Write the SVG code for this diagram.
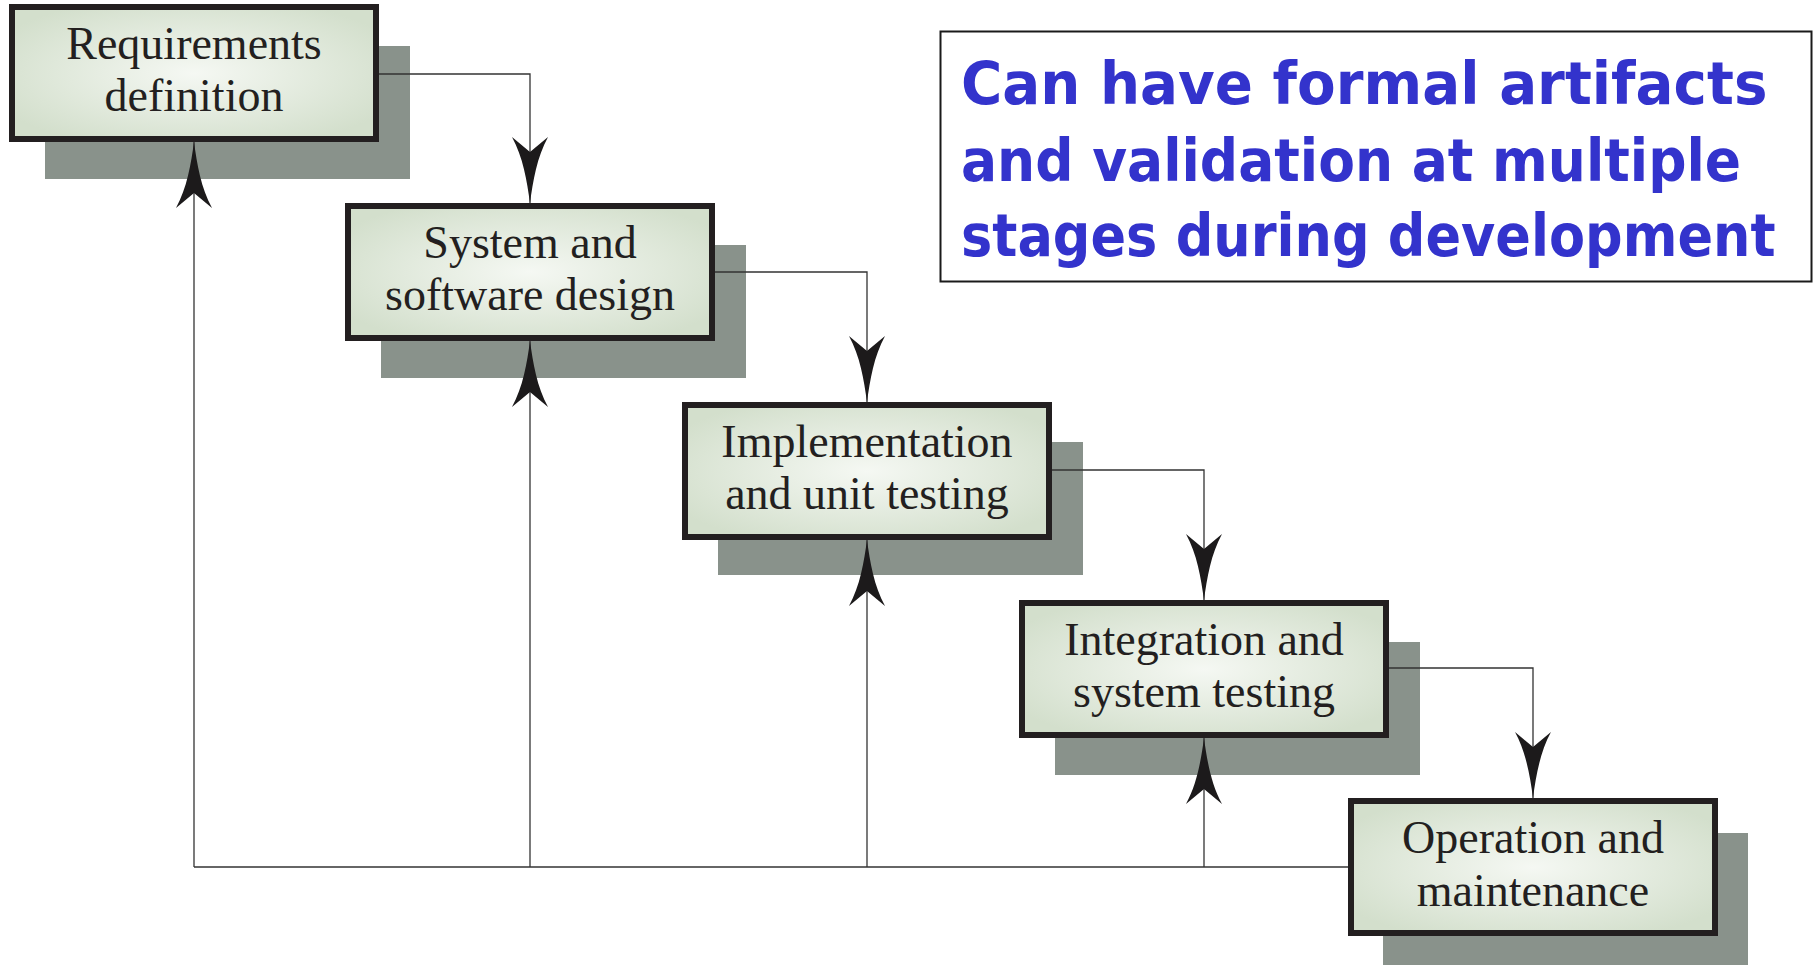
<svg xmlns="http://www.w3.org/2000/svg" width="1815" height="965" viewBox="0 0 1815 965">
  <style>
    .shadow { fill: #89928b; }
    .box { fill: url(#boxFill); stroke: #231f20; stroke-width: 6; }
    .label { font-family: "Liberation Serif", "Times New Roman", serif; font-size: 46px; fill: #231f20; text-anchor: middle; }
    .conn { fill: none; stroke: #333333; stroke-width: 1.3; }
    .arrow { marker-end: url(#swallow); }
    .note { font-family: "DejaVu Sans", "Noto Sans", sans-serif; font-weight: bold; font-size: 58px; fill: #3333cc; }
  </style>
  <defs>
    <radialGradient id="boxFill" cx="50%" cy="50%" r="60%">
      <stop offset="0" stop-color="#f5f8f3"/>
      <stop offset="1" stop-color="#d3dfcc"/>
    </radialGradient>
    <marker id="swallow" viewBox="-70 -20 72 40" markerWidth="72" markerHeight="40" refX="0" refY="0" orient="auto" markerUnits="userSpaceOnUse" overflow="visible">
      <path d="M0,0 C-22,3 -46,7 -66,18 Q-56,6 -51,0 Q-56,-6 -66,-18 C-46,-7 -22,-3 0,0 Z" fill="#1c1a1b"/>
    </marker>
  </defs>

  <rect width="1815" height="965" fill="#ffffff"/>

  <g id="shadows">
    <rect class="shadow" x="45" y="46" width="365" height="133"/>
    <rect class="shadow" x="381" y="245" width="365" height="133"/>
    <rect class="shadow" x="718" y="442" width="365" height="133"/>
    <rect class="shadow" x="1055" y="642" width="365" height="133"/>
    <rect class="shadow" x="1383" y="833" width="365" height="133"/>
  </g>

  <g id="connectors">
    <path class="conn arrow" d="M379,74 H530 V203"/>
    <path class="conn arrow" d="M715,272 H867 V402"/>
    <path class="conn arrow" d="M1052,470 H1204 V600"/>
    <path class="conn arrow" d="M1388,668 H1533 V798"/>
    <path class="conn" d="M1348,867 H194"/>
    <path class="conn arrow" d="M194,867 V142"/>
    <path class="conn arrow" d="M530,867 V341"/>
    <path class="conn arrow" d="M867,867 V540"/>
    <path class="conn arrow" d="M1204,867 V738"/>
  </g>

  <g id="node-requirements">
    <rect class="box" x="12" y="7" width="364" height="132"/>
    <text class="label" x="194" y="59">Requirements</text>
    <text class="label" x="194" y="111">definition</text>
  </g>
  <g id="node-design">
    <rect class="box" x="348" y="206" width="364" height="132"/>
    <text class="label" x="530" y="258">System and</text>
    <text class="label" x="530" y="310">software design</text>
  </g>
  <g id="node-implementation">
    <rect class="box" x="685" y="405" width="364" height="132"/>
    <text class="label" x="867" y="457">Implementation</text>
    <text class="label" x="867" y="509">and unit testing</text>
  </g>
  <g id="node-integration">
    <rect class="box" x="1022" y="603" width="364" height="132"/>
    <text class="label" x="1204" y="655">Integration and</text>
    <text class="label" x="1204" y="707">system testing</text>
  </g>
  <g id="node-operation">
    <rect class="box" x="1351" y="801" width="364" height="132"/>
    <text class="label" x="1533" y="853">Operation and</text>
    <text class="label" x="1533" y="906">maintenance</text>
  </g>

  <g id="note">
    <rect x="940.5" y="31.5" width="871" height="250" fill="#ffffff" stroke="#1a1a1a" stroke-width="2"/>
    <text class="note" transform="matrix(0.971 0 0 1 961 104)" x="0" y="0">Can have formal artifacts</text>
    <text class="note" transform="matrix(0.923 0 0 1 961 181)" x="0" y="0">and validation at multiple</text>
    <text class="note" transform="matrix(0.906 0 0 1 961 256)" x="0" y="0">stages during development</text>
  </g>
</svg>
